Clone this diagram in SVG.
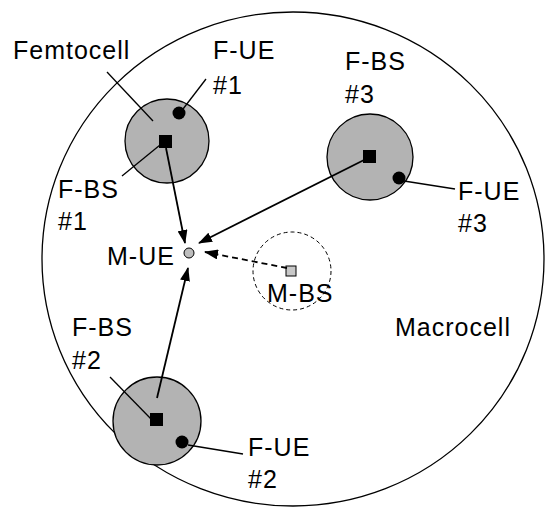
<svg xmlns="http://www.w3.org/2000/svg" width="545" height="508" viewBox="0 0 545 508">
<style>
text{font-family:"Liberation Sans",Arial,sans-serif;font-size:25px;letter-spacing:1px;fill:#000}
.cell{fill:#b3b3b3;stroke:#000;stroke-width:1.3}
.lead{stroke:#000;stroke-width:1.3;fill:none}
.arr{stroke:#000;stroke-width:1.8;fill:none;marker-end:url(#ah)}
.dash{stroke-dasharray:6 4}
</style>
<defs>
<marker id="ah" markerUnits="userSpaceOnUse" markerWidth="14" markerHeight="10" refX="13" refY="5" orient="auto">
<path d="M0,0 L14,5 L0,10 Z" fill="#000"/>
</marker>
</defs>
<rect width="545" height="508" fill="#fff"/>
<g id="macrocell">
<ellipse cx="293" cy="259" rx="251" ry="247" fill="none" stroke="#000" stroke-width="1.3"/>
<text x="395" y="336">Macrocell</text>
</g>
<g id="femto1">
<circle class="cell" cx="167" cy="141" r="42"/>
<rect x="159" y="135" width="13" height="13" fill="#000"/>
<circle cx="179" cy="113" r="6.5" fill="#000"/>
<line class="lead" x1="107" y1="72" x2="153" y2="121"/>
<line class="lead" x1="183" y1="109" x2="206" y2="79"/>
<line class="lead" x1="160" y1="145" x2="122" y2="176"/>
<text x="13" y="59">Femtocell</text>
<text x="213" y="59">F-UE</text>
<text x="213" y="94">#1</text>
<text x="58" y="198">F-BS</text>
<text x="58" y="230">#1</text>
</g>
<g id="femto3">
<circle class="cell" cx="370" cy="157" r="43"/>
<rect x="363" y="150" width="13" height="13" fill="#000"/>
<circle cx="399" cy="178" r="6.5" fill="#000"/>
<line class="lead" x1="404" y1="181" x2="455" y2="189"/>
<text x="345" y="70">F-BS</text>
<text x="345" y="103">#3</text>
<text x="458" y="200">F-UE</text>
<text x="458" y="232">#3</text>
</g>
<g id="femto2">
<circle class="cell" cx="157" cy="421" r="44"/>
<rect x="150" y="413" width="13" height="13" fill="#000"/>
<circle cx="182" cy="442" r="6.5" fill="#000"/>
<line class="lead" x1="110" y1="377" x2="152" y2="420"/>
<line class="lead" x1="188" y1="445" x2="243" y2="454"/>
<text x="72" y="336">F-BS</text>
<text x="72" y="369">#2</text>
<text x="248" y="456">F-UE</text>
<text x="248" y="488">#2</text>
</g>
<g id="mue">
<circle cx="189" cy="253" r="5" fill="#bdbdbd" stroke="#000" stroke-width="1"/>
<text x="107" y="265">M-UE</text>
</g>
<g id="mbs">
<circle cx="292" cy="271" r="39" fill="none" stroke="#000" stroke-width="1" stroke-dasharray="4 3"/>
<rect x="286" y="266" width="10" height="10" fill="#c8c8c8" stroke="#000" stroke-width="1"/>
<text x="267" y="302">M-BS</text>
</g>
<g id="connectors">
<line class="arr" x1="166" y1="148" x2="185" y2="243"/>
<line class="arr" x1="366" y1="159" x2="199" y2="243"/>
<line class="arr" x1="157" y1="398" x2="188" y2="268"/>
<line class="arr dash" x1="287" y1="268" x2="205" y2="252"/>
</g>
</svg>
